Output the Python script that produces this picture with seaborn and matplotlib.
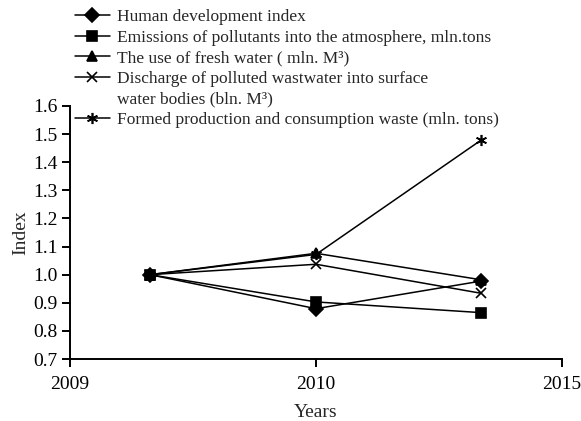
import matplotlib
matplotlib.use("Agg")
import matplotlib.pyplot as plt
import seaborn as sns
import pandas as pd
from matplotlib.lines import Line2D

# ---- data ----
year_ticks = [0, 1, 2]
year_labels = ["2009", "2010", "2015"]
x_pos = [0.325, 1.0, 1.67]

series_names = [
    "Human development index",
    "Emissions of pollutants into the atmosphere, mln.tons",
    "The use of fresh water ( mln. M³)",
    "Discharge of polluted wastwater into surface",
    "Formed production and consumption waste (mln. tons)",
]
hdi = [1.0, 0.879, 0.977]
emissions = [1.0, 0.903, 0.865]
fresh_water = [1.0, 1.076, 0.982]
discharge = [1.0, 1.037, 0.934]
waste = [1.0, 1.072, 1.478]

y_ticks = [0.7, 0.8, 0.9, 1.0, 1.1, 1.2, 1.3, 1.4, 1.5, 1.6]

markers = ["D", "s", "^", "x", (6, 2, 0)]
marker_sizes = [7.5, 7, 7.5, 7, 8]

sns.set_theme(style="ticks")
plt.rcParams["font.family"] = ["Liberation Serif", "DejaVu Serif"]

AX_FS = 14
LEG_FS = 12.5

rows = []
for name, vals in zip(series_names, [hdi, emissions, fresh_water, discharge, waste]):
    for x, v in zip(x_pos, vals):
        rows.append({"x": x, "value": v, "series": name})
df = pd.DataFrame(rows)

fig = plt.figure(figsize=(5.81, 4.21), dpi=100)
ax = fig.add_axes([70 / 581, 62 / 421, 492 / 581, 253 / 421])

for name, m, ms in zip(series_names, markers, marker_sizes):
    sub = df[df["series"] == name]
    sns.lineplot(data=sub, x="x", y="value", ax=ax, color="black", linewidth=1.1,
                 marker=m, markersize=ms, markeredgecolor="black", markerfacecolor="black",
                 markeredgewidth=1.2, legend=False)

ax.set_xlim(0, 2)
ax.set_ylim(0.7, 1.6)
ax.set_xticks(year_ticks)
ax.set_xticklabels(year_labels, fontsize=AX_FS)
ax.set_yticks(y_ticks)
ax.set_yticklabels([f"{v:.1f}" for v in y_ticks], fontsize=AX_FS)
ax.set_xlabel("Years", fontsize=AX_FS, labelpad=8)
ax.set_ylabel("Index", fontsize=AX_FS, labelpad=3)
for s in ["top", "right"]:
    ax.spines[s].set_visible(False)
for s in ["left", "bottom"]:
    ax.spines[s].set_linewidth(1.4)
    ax.spines[s].set_color("black")
ax.tick_params(axis="both", direction="out", length=6, width=1.4, colors="black")
ax.tick_params(axis="x", pad=6)
ax.tick_params(axis="y", pad=3)
ax.patch.set_alpha(0)

handles = []
labels = []
for name, m, ms in zip(series_names, markers, marker_sizes):
    handles.append(Line2D([], [], color="black", linewidth=1.1, marker=m, markersize=ms,
                          markerfacecolor="black", markeredgecolor="black", markeredgewidth=1.2))
    labels.append(name)
handles.insert(4, Line2D([], [], color="none"))
labels.insert(4, "water bodies (bln. M³)")

fig.legend(handles, labels, loc="upper left", bbox_to_anchor=(75 / 581, 1 - 9 / 421),
           frameon=False, fontsize=LEG_FS, handlelength=2.0, handletextpad=0.4,
           labelspacing=0.25, borderaxespad=0, borderpad=0)

fig.savefig("out.png", dpi=100)
